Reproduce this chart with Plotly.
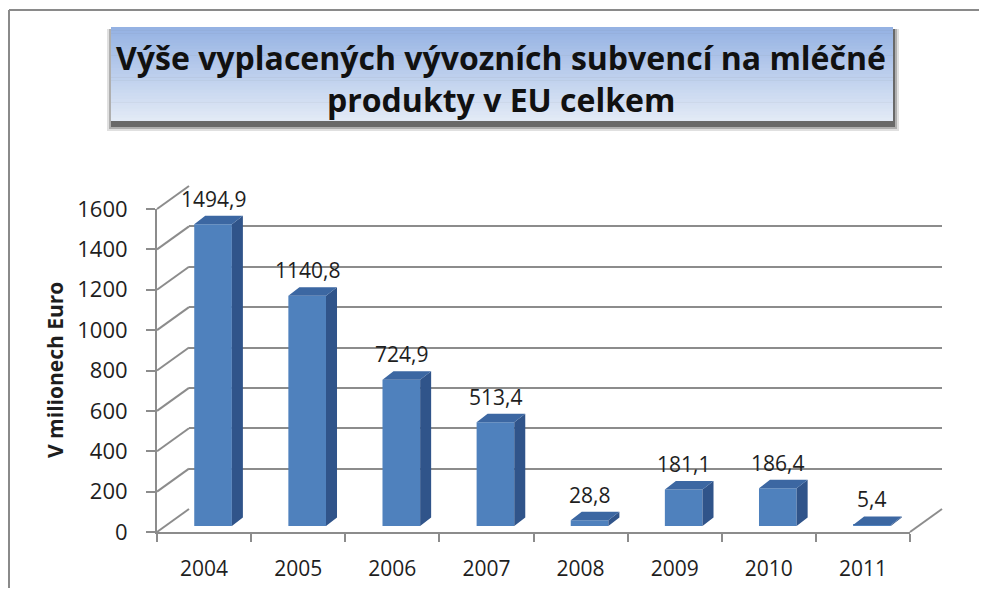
import plotly.graph_objects as go

# ---------------- data ----------------
years = ["2004", "2005", "2006", "2007", "2008", "2009", "2010", "2011"]
values = [1494.9, 1140.8, 724.9, 513.4, 28.8, 181.1, 186.4, 5.4]
value_labels = ["1494,9", "1140,8", "724,9", "513,4", "28,8", "181,1", "186,4", "5,4"]
y_ticks = [0, 200, 400, 600, 800, 1000, 1200, 1400, 1600]
title_line1 = "Výše vyplacených vývozních subvencí na mléčné"
title_line2 = "produkty v EU celkem"
y_title = "V milionech Euro"

# ---------------- geometry (pixels, page coordinates) ----------------
PAGE_W, PAGE_H = 987, 596
OFF = 8  # default body margin of the page
W, H = PAGE_W - 2 * OFF, PAGE_H - 2 * OFF
def px(x): return (x - OFF) / W
def py(y): return 1 - (y - OFF) / H

FONT = "Open Sans"
GRAY = "#8c8c8c"
TXT = "#1e1e1e"

# front axes frame
FX0, FX1, FY0, FY1 = 157, 910, 532, 209
# back wall offset
WDX, WDY = 32, -23
# bar offset within depth
BDX, BDY = 9, -6
# bar depth in pixels
DPX, DPY = 11, 8.5

n = len(years)
cat_px = (FX1 - FX0) / n
val_px = (FY0 - FY1) / 1600.0
dx = DPX / cat_px
dy = DPY / val_px
bw = 0.40

fig = go.Figure()

# front faces
fig.add_trace(go.Bar(
    x=list(range(n)), y=values, width=bw,
    marker=dict(color="#4f81bd", line=dict(width=0)),
    xaxis="x3", yaxis="y3", hoverinfo="skip", showlegend=False))

# side and top faces
sx, sy, tx, ty = [], [], [], []
for i, v in enumerate(values):
    r = i + bw / 2
    l = i - bw / 2
    sx += [r, r + dx, r + dx, r, r, None]
    sy += [0, dy, v + dy, v, 0, None]
    tx += [l, r, r + dx, l + dx, l, None]
    ty += [v, v, v + dy, v + dy, v, None]
fig.add_trace(go.Scatter(x=sx, y=sy, fill="toself", fillcolor="#30548a",
                         line=dict(width=0), mode="lines", xaxis="x3", yaxis="y3",
                         hoverinfo="skip", showlegend=False))
fig.add_trace(go.Scatter(x=tx, y=ty, fill="toself", fillcolor="#3c67a2",
                         line=dict(width=0), mode="lines", xaxis="x3", yaxis="y3",
                         hoverinfo="skip", showlegend=False))

# invisible traces to activate front and back axes
fig.add_trace(go.Scatter(x=[0], y=[0], mode="markers", marker=dict(opacity=0),
                         xaxis="x", yaxis="y", hoverinfo="skip", showlegend=False))
fig.add_trace(go.Scatter(x=[0], y=[0], mode="markers", marker=dict(opacity=0),
                         xaxis="x2", yaxis="y2", hoverinfo="skip", showlegend=False))

annotations = []
for i, (v, t) in enumerate(zip(values, value_labels)):
    annotations.append(dict(x=i, y=v, xref="x3", yref="y3", text=t, showarrow=False,
                            yshift=DPY + 17, xanchor="center", yanchor="middle",
                            font=dict(family=FONT, size=21, color=TXT)))

annotations.append(dict(x=px(55), y=py(370), xref="paper", yref="paper", text="<b>" + y_title + "</b>",
                        textangle=-90, showarrow=False, xanchor="center", yanchor="middle",
                        font=dict(family=FONT, size=21, color=TXT)))
annotations.append(dict(x=px(501), y=py(57), xref="paper", yref="paper", text="<b>" + title_line1 + "</b>",
                        showarrow=False, xanchor="center", yanchor="middle",
                        font=dict(family=FONT, size=32, color="#111111")))
annotations.append(dict(x=px(501), y=py(99), xref="paper", yref="paper", text="<b>" + title_line2 + "</b>",
                        showarrow=False, xanchor="center", yanchor="middle",
                        font=dict(family=FONT, size=32, color="#111111")))

shapes = []
# outer frame (left and top edges only visible)
shapes.append(dict(type="line", xref="paper", yref="paper", x0=px(9), x1=px(9), y0=py(10), y1=py(PAGE_H),
                   line=dict(color="#8a8a8a", width=2), layer="below"))
shapes.append(dict(type="line", xref="paper", yref="paper", x0=px(9), x1=px(PAGE_W), y0=py(10), y1=py(10),
                   line=dict(color="#8a8a8a", width=2), layer="below"))
# left wall diagonals
for t in y_ticks:
    yf = FY0 - t * val_px
    shapes.append(dict(type="line", xref="paper", yref="paper", x0=px(FX0), y0=py(yf),
                       x1=px(FX0 + WDX), y1=py(yf + WDY), line=dict(color=GRAY, width=2), layer="below"))
# floor right diagonal
shapes.append(dict(type="line", xref="paper", yref="paper", x0=px(FX1), y0=py(FY0),
                   x1=px(FX1 + WDX), y1=py(FY0 + WDY), line=dict(color=GRAY, width=2), layer="below"))

# title box shadow
bx0, bx1, by0, by1 = 111, 893, 27, 121
shadow = [(6, 0.12), (4, 0.22), (2, 0.40)]
for o, a in shadow:
    shapes.append(dict(type="rect", xref="paper", yref="paper", x0=px(bx0 - o + 2), x1=px(bx1 + o),
                       y0=py(by0 + 2), y1=py(by1 + o + 4), line=dict(width=0),
                       fillcolor="rgba(0,0,0,%.2f)" % a, layer="above"))
# title box gradient
top_c = (0x95, 0xb2, 0xe3)
bot_c = (0xe2, 0xea, 0xf6)
steps = 30
for s in range(steps):
    f = s / (steps - 1)
    c = tuple(int(round(top_c[j] + (bot_c[j] - top_c[j]) * f)) for j in range(3))
    ya = by0 + (by1 - by0) * s / steps
    yb = by0 + (by1 - by0) * (s + 1) / steps + 0.6
    shapes.append(dict(type="rect", xref="paper", yref="paper", x0=px(bx0), x1=px(bx1),
                       y0=py(ya), y1=py(min(yb, by1)), line=dict(width=0),
                       fillcolor="rgb(%d,%d,%d)" % c, layer="above"))

fig.update_layout(
    width=W, height=H, margin=dict(l=0, r=0, t=0, b=0, autoexpand=False),
    paper_bgcolor="white", plot_bgcolor="rgba(0,0,0,0)",
    showlegend=False,
    xaxis=dict(domain=[px(FX0), px(FX1)], range=[-0.5, n - 0.5], anchor="y", automargin=False,
               tickvals=list(range(n)), ticktext=years, ticks="outside", ticklen=17,
               tickcolor="rgba(0,0,0,0)", showgrid=False, zeroline=False,
               showline=True, linecolor=GRAY, linewidth=2,
               tickfont=dict(family=FONT, size=21, color=TXT),
               minor=dict(tickvals=[k - 0.5 for k in range(n + 1)], ticks="outside", ticklen=8,
                          tickcolor=GRAY, tickwidth=2, showgrid=False)),
    yaxis=dict(domain=[py(FY0), py(FY1)], range=[0, 1600], anchor="x", automargin=False,
               tickvals=y_ticks, ticks="outside", ticklen=9, tickcolor=GRAY, tickwidth=2,
               showgrid=False, zeroline=False, showline=True, linecolor=GRAY, linewidth=2,
               ticklabelstandoff=14,
               tickfont=dict(family=FONT, size=22, color=TXT)),
    xaxis2=dict(domain=[px(FX0 + WDX), px(FX1 + WDX)], range=[-0.5, n - 0.5], anchor="y2",
                automargin=False, showticklabels=False, showgrid=False, zeroline=False, showline=False),
    yaxis2=dict(domain=[py(FY0 + WDY), py(FY1 + WDY)], range=[0, 1600], anchor="x2",
                automargin=False, tickvals=y_ticks, showticklabels=False, showgrid=True,
                gridcolor=GRAY, gridwidth=2, zeroline=False, showline=False, ticks=""),
    xaxis3=dict(domain=[px(FX0 + BDX), px(FX1 + BDX)], range=[-0.5, n - 0.5], anchor="y3",
                automargin=False, visible=False),
    yaxis3=dict(domain=[py(FY0 + BDY), py(FY1 + BDY)], range=[0, 1600], anchor="x3",
                automargin=False, visible=False),
    annotations=annotations,
    shapes=shapes,
)

fig.write_html("out.html", config={"displayModeBar": False})
